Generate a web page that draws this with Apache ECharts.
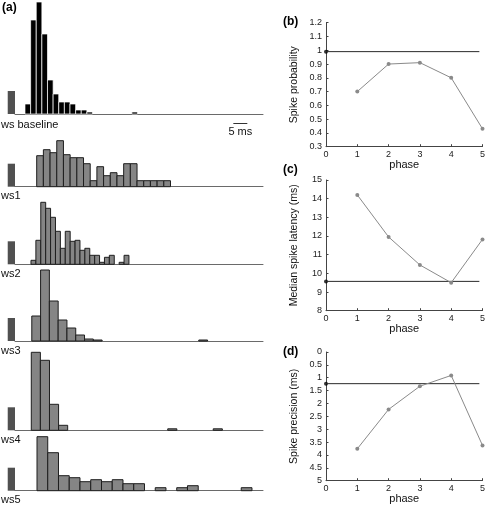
<!DOCTYPE html>
<html><head><meta charset="utf-8">
<script src="https://cdn.jsdelivr.net/npm/echarts@6/dist/echarts.min.js"></script>
<style>html,body{margin:0;padding:0;background:#fff}#c{width:488px;height:507px}</style>
</head><body><div id="c"></div>
<script>
// ---------- (a) post-stimulus histograms ----------
const panelNames = ['ws baseline', 'ws1', 'ws2', 'ws3', 'ws4', 'ws5'];
const binStart = [3.57, 7.75, 5.71, 6.0, 5.82, 7.86];   // ms
const binWidth = [2.01, 2.39, 1.75, 3.14, 3.25, 3.84];  // ms
const countsBaseline = [10, 94, 112, 80, 34, 20, 12, 12, 10, 4, 4, 2, 0, 0, 0, 0, 0, 0, 0, 2];
const countsWs1 = [31, 37, 34, 46, 32, 29, 29, 23, 6, 20, 11, 14, 11, 23, 23, 6, 6, 6, 6, 6];
const countsWs2 = [4, 24, 62, 56, 47, 33, 16, 33, 23, 24, 14, 16, 9, 9, 2, 7, 9, 0, 2, 9];
const countsWs3 = [25, 71, 40, 21, 13, 6, 2, 1, 0, 0, 0, 0, 0, 0, 0, 0, 0, 0, 0, 1];
const countsWs4 = [78, 70, 26, 5, 0, 0, 0, 0, 0, 0, 0, 0, 0, 0, 0, 1.5, 0, 0, 0, 0, 1.5];
const countsWs5 = [54, 38, 15, 13, 9, 11, 9, 11, 7, 7, 0, 3, 0, 3, 5, 0, 0, 0, 0, 3];
const stimMarker = [-2.6, 0, 23];   // start ms, end ms, height
const timeRange = [0, 88.6];        // ms
const scaleBarStart = 78, scaleBarMs = 5;
const scaleBarLabel = '5 ms';

// ---------- (b)-(d) vs phase ----------
const phases = [1, 2, 3, 4, 5];
const spikeProb = [0.70, 0.90, 0.91, 0.80, 0.43];
const spikeProbBase = 0.99;
const latency = [14.2, 11.95, 10.45, 9.5, 11.82];
const latencyBase = 9.57;
const precision = [3.76, 2.23, 1.33, 0.91, 3.63];
const precisionBase = 1.23;
const baseLineEnd = 4.9;

// ---------- layout ----------
const FONT = 'Liberation Sans, Arial, Helvetica, sans-serif';
const histCounts = [countsBaseline, countsWs1, countsWs2, countsWs3, countsWs4, countsWs5];
const histBase = [114, 186.7, 264.3, 341, 430.3, 490.7];
const histH = [112, 80, 80, 80, 80, 80];

const grid = [], xAxis = [], yAxis = [], series = [], graphic = [];

histCounts.forEach((counts, k) => {
  grid.push({left: 15, width: 248, top: histBase[k] - histH[k], height: histH[k]});
  xAxis.push({type: 'value', gridIndex: k, min: timeRange[0], max: timeRange[1],
    axisLine: {show: true, onZero: false, lineStyle: {color: '#6a6a6a', width: 1}},
    axisTick: {show: false}, axisLabel: {show: false}, splitLine: {show: false}});
  yAxis.push({type: 'value', gridIndex: k, min: 0, max: histH[k], show: false});
  const data = counts.map((c, i) => [binStart[k] + i * binWidth[k], binStart[k] + (i + 1) * binWidth[k], c]);
  const isBase = k === 0;
  series.push({
    type: 'custom', xAxisIndex: k, yAxisIndex: k, clip: false, data,
    encode: {x: [0, 1], y: 2},
    renderItem: (params, api) => {
      const h = api.value(2);
      if (!h) return null;
      const p0 = api.coord([api.value(0), h]);
      const p1 = api.coord([api.value(1), 0]);
      return {type: 'rect', shape: {x: p0[0], y: p0[1], width: p1[0] - p0[0], height: p1[1] - p0[1]},
        style: isBase ? {fill: '#000', stroke: '#fff', lineWidth: 0.7}
                      : {fill: '#858585', stroke: '#1e1e1e', lineWidth: 1}};
    }
  });
  series.push({
    type: 'custom', xAxisIndex: k, yAxisIndex: k, clip: false, data: [stimMarker],
    encode: {x: [0, 1], y: 2},
    renderItem: (params, api) => {
      const p0 = api.coord([api.value(0), api.value(2)]);
      const p1 = api.coord([api.value(1), 0]);
      return {type: 'rect', shape: {x: p0[0], y: p0[1], width: p1[0] - p0[0], height: p1[1] - p0[1]},
        style: {fill: '#505050'}};
    }
  });
  graphic.push({type: 'text', left: 1, top: histBase[k] + (isBase ? 5 : 4),
    style: {text: panelNames[k], font: '11px ' + FONT, fill: '#111'}});
});

// scale bar in the baseline panel
series.push({
  type: 'custom', xAxisIndex: 0, yAxisIndex: 0, clip: false, data: [[scaleBarStart, scaleBarStart + scaleBarMs]],
  encode: {x: [0, 1]},
  renderItem: (params, api) => {
    const a = api.coord([api.value(0), 0]);
    const b = api.coord([api.value(1), 0]);
    const y = a[1] + 9.5;
    return {type: 'group', children: [
      {type: 'line', shape: {x1: a[0], y1: y, x2: b[0], y2: y}, style: {stroke: '#333', lineWidth: 1}},
      {type: 'text', x: (a[0] + b[0]) / 2, y: y + 3,
        style: {text: scaleBarLabel, font: '11px ' + FONT, fill: '#111', align: 'center', verticalAlign: 'top'}}
    ]};
  }
});

graphic.push({type: 'text', left: 2, top: 2, style: {text: '(a)', font: 'bold 12px ' + FONT, fill: '#000'}});

// ---------- right panels ----------
const rp = [
  {label: '(b)', labelTop: 16, name: 'Spike probability', top: 22.7, bottom: 146.7, min: 0.3, max: 1.2, interval: 0.1, inverse: false,
   vals: spikeProb, base: spikeProbBase},
  {label: '(c)', labelTop: 164, name: 'Median spike latency (ms)', top: 180, bottom: 310.7, min: 8, max: 15, interval: 1, inverse: false,
   vals: latency, base: latencyBase},
  {label: '(d)', labelTop: 346, name: 'Spike precision (ms)', top: 352, bottom: 480.7, min: 0, max: 5, interval: 0.5, inverse: true,
   vals: precision, base: precisionBase}
];
rp.forEach((p, j) => {
  const g = 6 + j;
  grid.push({left: 326, right: 4.7, top: p.top, height: p.bottom - p.top});
  xAxis.push({type: 'value', gridIndex: g, min: 0, max: 5, interval: 1,
    name: 'phase', nameLocation: 'middle', nameGap: 12,
    nameTextStyle: {fontFamily: FONT, fontSize: 11, color: '#111'},
    axisLine: {show: true, onZero: false, lineStyle: {color: '#444', width: 1}},
    axisTick: {show: true, inside: true, length: 2.5, lineStyle: {color: '#444'}},
    axisLabel: {fontFamily: FONT, fontSize: 9, color: '#222', margin: 3},
    splitLine: {show: false}});
  yAxis.push({type: 'value', gridIndex: g, min: p.min, max: p.max, interval: p.interval, inverse: p.inverse,
    name: p.name, nameLocation: 'middle', nameGap: 26, nameRotate: 90,
    nameTextStyle: {fontFamily: FONT, fontSize: 10.5, color: '#111'},
    axisLine: {show: true, onZero: false, lineStyle: {color: '#444', width: 1}},
    axisTick: {show: true, inside: true, length: 2.5, lineStyle: {color: '#444'}},
    axisLabel: {fontFamily: FONT, fontSize: 9, color: '#222', margin: 4,
      formatter: v => String(Math.round(v * 10) / 10)},
    splitLine: {show: false}});
  series.push({type: 'line', xAxisIndex: g, yAxisIndex: g, clip: false, silent: true,
    data: [[0, p.base], [baseLineEnd, p.base]], symbol: 'none',
    lineStyle: {color: '#2a2a2a', width: 1}});
  series.push({type: 'scatter', xAxisIndex: g, yAxisIndex: g, clip: false, silent: true,
    data: [[0, p.base]], symbolSize: 4, itemStyle: {color: '#000'}});
  series.push({type: 'line', xAxisIndex: g, yAxisIndex: g, clip: false, silent: true,
    data: phases.map((x, i) => [x, p.vals[i]]), symbol: 'circle', symbolSize: 4, showSymbol: true,
    lineStyle: {color: '#8a8a8a', width: 1}, itemStyle: {color: '#8a8a8a', borderWidth: 0}});
  graphic.push({type: 'text', left: 283, top: p.labelTop, style: {text: p.label, font: 'bold 12px ' + FONT, fill: '#000'}});
});

const chart = echarts.init(document.getElementById('c'), null, {renderer: 'canvas'});
chart.setOption({animation: false, backgroundColor: '#fff', grid, xAxis, yAxis, series, graphic});
</script>
</body></html>
